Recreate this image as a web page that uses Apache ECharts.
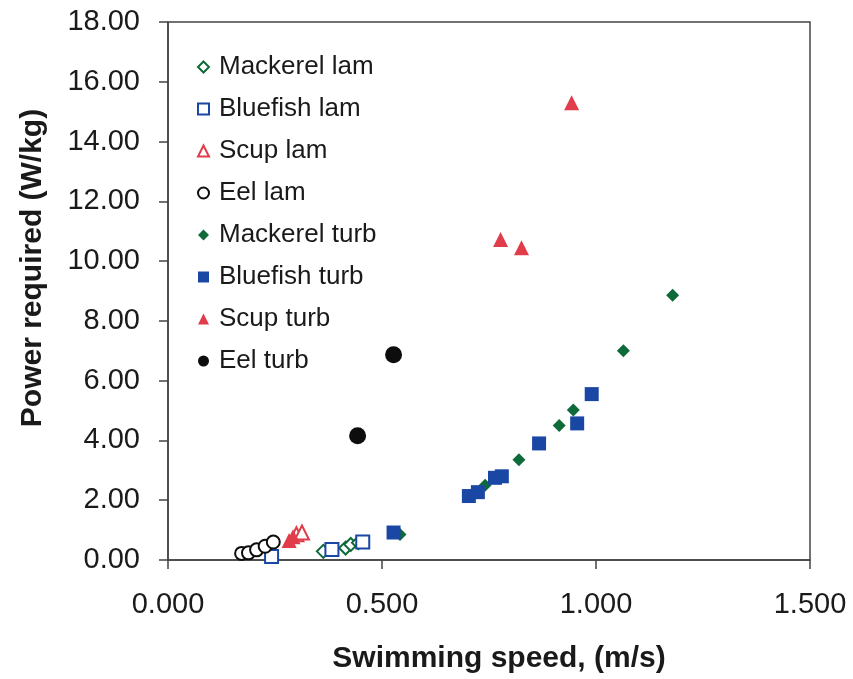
<!DOCTYPE html>
<html>
<head>
<meta charset="utf-8">
<script src="https://cdn.jsdelivr.net/npm/echarts@6/dist/echarts.min.js"></script>
<style>html,body{margin:0;padding:0;background:#fff}#c{width:853px;height:679px}</style>
</head>
<body>
<div id="c"></div>
<script>
const xTicks = [0, 0.5, 1.0, 1.5];
const yTicks = [0, 2, 4, 6, 8, 10, 12, 14, 16, 18];
const seriesNames = ['Mackerel lam','Bluefish lam','Scup lam','Eel lam','Mackerel turb','Bluefish turb','Scup turb','Eel turb'];
const mackerelLam = [[0.363,0.29],[0.415,0.40],[0.427,0.52],[0.445,0.58]];
const bluefishLam = [[0.242,0.12],[0.383,0.35],[0.455,0.60]];
const scupLam = [[0.300,0.86],[0.313,0.92]];
const eelLam = [[0.172,0.22],[0.188,0.24],[0.207,0.34],[0.227,0.46],[0.246,0.60]];
const mackerelTurb = [[0.542,0.85],[0.741,2.50],[0.820,3.35],[0.914,4.50],[0.947,5.02],[1.064,7.00],[1.179,8.86]];
const bluefishTurb = [[0.527,0.92],[0.703,2.14],[0.724,2.27],[0.764,2.75],[0.780,2.80],[0.867,3.90],[0.956,4.57],[0.990,5.55]];
const scupTurb = [[0.283,0.65],[0.292,0.78],[0.777,10.72],[0.826,10.45],[0.943,15.30]];
const eelTurb = [[0.443,4.16],[0.527,6.87]];

const GREEN = '#0f6a3a', BLUE = '#1a46a4', RED = '#e03c4a', BLACK = '#0d0d0d';
const FONT = 'Liberation Sans, Arial, Helvetica, sans-serif';

function open(name, data, symbol, color, size) {
  return {name, type:'scatter', data, symbol, symbolSize:size,
    itemStyle:{color:'#fff', borderColor:color, borderWidth:2, opacity:1}};
}
function filled(name, data, symbol, color, size) {
  return {name, type:'scatter', data, symbol, symbolSize:size,
    itemStyle:{color:color, opacity:1}};
}

const chart = echarts.init(document.getElementById('c'));
chart.setOption({
  animation:false,
  backgroundColor:'#fff',
  grid:{left:168, right:43, top:22, bottom:118, show:true, borderColor:'#444', borderWidth:1.5},
  legend:{
    orient:'vertical', left:192, top:47, itemWidth:11, itemHeight:11, itemGap:12,
    textStyle:{fontFamily:FONT, fontSize:26, color:'#1a1a1a', lineHeight:30, padding:[0,0,0,5]},
    data:seriesNames
  },
  xAxis:{
    type:'value', min:0, max:1.5, interval:0.5,
    name:'Swimming speed, (m/s)', nameLocation:'middle', nameGap:84,
    nameTextStyle:{fontFamily:FONT, fontSize:30, fontWeight:'bold', color:'#1a1a1a', padding:[0,0,0,20]},
    axisLine:{lineStyle:{color:'#444', width:1.5}},
    axisTick:{show:true, inside:false, length:9, lineStyle:{color:'#444', width:1.5}},
    splitLine:{show:false},
    axisLabel:{fontFamily:FONT, fontSize:29, color:'#1a1a1a', margin:30, formatter:v=>v.toFixed(3)}
  },
  yAxis:{
    type:'value', min:0, max:18, interval:2,
    name:'Power required (W/kg)', nameLocation:'middle', nameGap:120,
    nameTextStyle:{fontFamily:FONT, fontSize:30, fontWeight:'bold', color:'#1a1a1a', padding:[0,0,0,46]},
    axisLine:{lineStyle:{color:'#444', width:1.5}},
    axisTick:{show:true, inside:false, length:9, lineStyle:{color:'#444', width:1.5}},
    splitLine:{show:false},
    axisLabel:{fontFamily:FONT, fontSize:29, color:'#1a1a1a', margin:28, formatter:v=>v.toFixed(2)}
  },
  series:[
    open(seriesNames[0], mackerelLam, 'diamond', GREEN, 13),
    open(seriesNames[1], bluefishLam, 'rect', BLUE, 13),
    open(seriesNames[2], scupLam, 'triangle', RED, 14),
    open(seriesNames[3], eelLam, 'circle', BLACK, 13),
    filled(seriesNames[4], mackerelTurb, 'diamond', GREEN, 13),
    filled(seriesNames[5], bluefishTurb, 'rect', BLUE, 14),
    filled(seriesNames[6], scupTurb, 'triangle', RED, 15),
    filled(seriesNames[7], eelTurb, 'circle', BLACK, 17)
  ]
});
</script>
</body>
</html>
